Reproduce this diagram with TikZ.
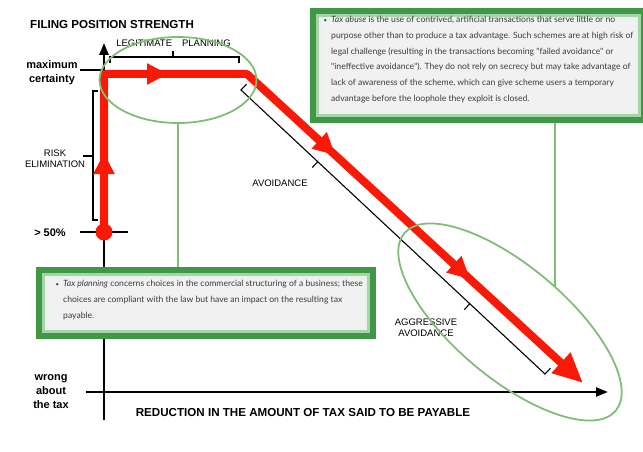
\documentclass[tikz,border=0pt]{standalone}
\usepackage{fontspec}
\setmainfont{Liberation Sans}
\newfontfamily\notefont{Lato}
\usetikzlibrary{arrows.meta,shapes.geometric,decorations.markings}
\definecolor{taxred}{RGB}{250,24,6}
\definecolor{notegreen}{RGB}{62,152,70}
\definecolor{ringgreen}{RGB}{128,190,120}
\definecolor{notegray}{HTML}{F1F1F1}
\definecolor{noteink}{HTML}{3C3C3C}

\begin{document}
\begin{tikzpicture}[x=1pt,y=-1pt,
  axisline/.style={line width=2.4pt,-{Triangle[length=12pt,width=9pt]}},
  tickline/.style={line width=2.4pt},
  bracketline/.style={line width=1.1pt},
  axistitle/.style={font=\fontsize{11.6}{13}\selectfont\bfseries,inner sep=0pt},
  lbl/.style={font=\fontsize{9.5}{11}\selectfont,align=center,inner sep=0pt},
  boldlbl/.style={font=\fontsize{11}{14}\selectfont\bfseries,align=center,inner sep=0pt},
  redpath/.style={draw=taxred,line width=8pt,line join=round},
  midarrow/.style={postaction={decorate},decoration={markings,
    mark=at position 79pt with {\arrow{Triangle[length=21pt,width=20pt]}},
    mark=at position 222pt with {\arrow{Triangle[length=21pt,width=20pt]}},
    mark=at position 421pt with {\arrow{Triangle[length=22pt,width=21pt]}},
    mark=at position 604pt with {\arrow{Triangle[length=22pt,width=21pt]}}}},
  ring/.style={draw=ringgreen,line width=1.8pt,ellipse,inner sep=0pt},
  tieline/.style={draw=ringgreen,line width=1.5pt},
  notebox/.style={draw=notegreen,fill=notegray,line width=6pt,inner sep=0pt,anchor=north west},
  notehalo/.style={draw=notegreen!45!white,line width=3pt},
  noteglow/.style={draw=notegreen!12!white,line width=3pt},
  notetext/.style={font=\notefont\fontsize{8.6}{15.8}\selectfont,text=noteink,align=left,inner sep=0pt,anchor=north west}
]
  \useasboundingbox (0,0) rectangle (643,452);

  \node[axistitle,anchor=west] (ytitle) at (30,25) {FILING POSITION STRENGTH};
  \node[axistitle] (xtitle) at (303,413) {REDUCTION IN THE AMOUNT OF TAX SAID TO BE PAYABLE};

  \coordinate (yfoot) at (104,420);
  \coordinate (ytop) at (104,43);
  \coordinate (xstart) at (86,392);
  \coordinate (xend) at (608,392);
  \draw[axisline] (yfoot) -- (ytop);
  \draw[axisline] (xstart) -- (xend);

  \draw[tickline] (80,70) -- (104,70);
  \draw[tickline] (80,232) -- (128,232);
  \node[boldlbl] (maxlbl) at (52,73) {maximum\\certainty};
  \node[boldlbl] (halflbl) at (50,233) {> 50\%};
  \node[boldlbl] (wronglbl) at (51,392) {wrong\\about\\the tax};

  \draw[bracketline] (98,91) -- (93,91) -- (93,220) -- (98,220);
  \draw[bracketline] (93,156) -- (83,156);
  \node[lbl] (risklbl) at (55,159) {RISK\\ELIMINATION};

  \draw[bracketline] (110,63) -- (110,57) -- (239,57) -- (239,63);
  \draw[bracketline] (173,57) -- (173,51);
  \node[lbl] (legitlbl) at (173.5,43) {LEGITIMATE\hspace{10pt}PLANNING};

  \draw[bracketline] (246.5,84.2) -- (241,90) -- (545,374) -- (550.5,368.2);
  \draw[bracketline] (317.8,161.7) -- (312.3,167.5);
  \draw[bracketline] (469.8,303.8) -- (464.3,309.6);
  \node[lbl] (avoidlbl) at (280,183) {AVOIDANCE};
  \node[lbl] (aggrlbl) at (426,328) {AGGRESSIVE\\AVOIDANCE};

  \coordinate (bend1) at (104,74);
  \coordinate (bend2) at (247,74);
  \coordinate (finish) at (583,383);
  \node[circle,fill=taxred,minimum size=17pt,inner sep=0pt] (start) at (104,232) {};
  \draw[redpath,midarrow,-{Triangle[length=30pt,width=26pt]}] (start.center) -- (bend1) -- (bend2) -- (finish);

  \node[ring,minimum width=157pt,minimum height=86pt] (legitring) at (178,80) {};
  \node[ring,rotate=-40,minimum width=276pt,minimum height=112pt] (aggrring) at (510,322) {};
  \coordinate (abusefoot) at (555,287);

  \node[notebox,minimum width=331pt,minimum height=109pt] (abusebox) at (310,8) {};
  \draw[notehalo] ([shift={(7.5,7.5)}]abusebox.north west) rectangle ([shift={(-7.5,-7.5)}]abusebox.south east);
  \draw[noteglow] ([shift={(10.5,10.5)}]abusebox.north west) rectangle ([shift={(-10.5,-10.5)}]abusebox.south east);
  \node[notebox,minimum width=334pt,minimum height=66pt] (planbox) at (36,267) {};
  \draw[notehalo] ([shift={(7.5,7.5)}]planbox.north west) rectangle ([shift={(-7.5,-7.5)}]planbox.south east);
  \draw[noteglow] ([shift={(10.5,10.5)}]planbox.north west) rectangle ([shift={(-10.5,-10.5)}]planbox.south east);
  \draw[tieline] (abusefoot) -- (abusefoot |- abusebox.south);
  \draw[tieline] (legitring.south) -- (legitring.south |- planbox.north);

  \node[notetext] (abusetext) at (331,16) {\llap{{\fontsize{6}{6}\selectfont\textbullet}\hspace{4pt}}\textit{Tax abuse} is the use of contrived, artificial transactions that serve little or no\\
    purpose other than to produce a tax advantage. Such schemes are at high risk of\\
    legal challenge (resulting in the transactions becoming "failed avoidance" or\\
    "ineffective avoidance"). They do not rely on secrecy but may take advantage of\\
    lack of awareness of the scheme, which can give scheme users a temporary\\
    advantage before the loophole they exploit is closed.};
  \node[notetext] (plantext) at (63,280) {\llap{{\fontsize{6}{6}\selectfont\textbullet}\hspace{4pt}}\textit{Tax planning} concerns choices in the commercial structuring of a business; these\\
    choices are compliant with the law but have an impact on the resulting tax\\
    payable.};
\end{tikzpicture}
\end{document}
